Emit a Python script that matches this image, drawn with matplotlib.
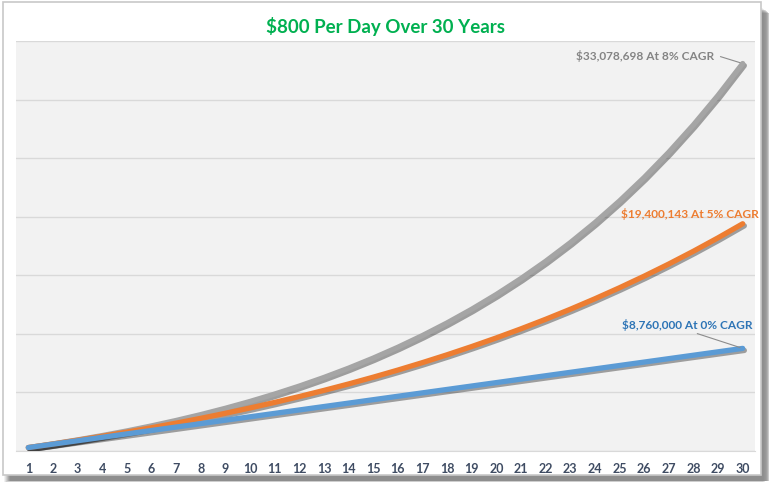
import matplotlib
matplotlib.use("Agg")
import matplotlib.pyplot as plt
import matplotlib.patheffects as pe
from matplotlib.patches import Rectangle

# ---------------------------------------------------------------
# Datos: $800 diarios (292,000 por año) acumulados durante 30 años
# ---------------------------------------------------------------
years = list(range(1, 31))

cagr_0 = [292000, 584000, 876000, 1168000, 1460000, 1752000, 2044000, 2336000,
          2628000, 2920000, 3212000, 3504000, 3796000, 4088000, 4380000, 4672000,
          4964000, 5256000, 5548000, 5840000, 6132000, 6424000, 6716000, 7008000,
          7300000, 7592000, 7884000, 8176000, 8468000, 8760000]

cagr_5 = [292000, 598600, 920530, 1258557, 1613484, 1986159, 2377466, 2788340,
          3219757, 3672745, 4148382, 4647801, 5172191, 5722801, 6300941, 6907988,
          7545387, 8214656, 8917389, 9655258, 10430022, 11243523, 12097699, 12994584,
          13936313, 14925129, 15963385, 17053554, 18198232, 19400143]

cagr_8 = [292000, 607360, 947949, 1315785, 1713047, 2142091, 2605459, 3105895,
          3646367, 4230076, 4860482, 5541321, 6276627, 7070757, 7928417, 8854691,
          9855066, 10935471, 12102309, 13362494, 14723493, 16193373, 17781842, 19495310,
          21346934, 23346689, 25506424, 27838938, 30358053, 33078698]

labels = ["$8,760,000 At 0% CAGR", "$19,400,143 At 5% CAGR", "$33,078,698 At 8% CAGR"]

W, H = 773, 485
fig = plt.figure(figsize=(W / 100, H / 100), dpi=100)
fig.patch.set_facecolor("white")

# marco con sombra
for i, a in enumerate([0.10, 0.14, 0.18, 0.24, 0.30, 0.36, 0.42]):
    fig.patches.append(Rectangle(((4 + i) / W, (H - 483 + i * 0.2) / H),
                                 (758 + 0.5) / W, (474 - i) / H,
                                 transform=fig.transFigure, facecolor="#7f7f7f",
                                 edgecolor="none", alpha=a, zorder=0))
fig.patches.append(Rectangle((3 / W, (H - 476) / H), 758 / W, 473 / H,
                             transform=fig.transFigure, facecolor="white",
                             edgecolor="#c8c8c8", linewidth=1.2, zorder=1))

ax = fig.add_axes([16 / W, (H - 452) / H, (755 - 16) / W, (452 - 42) / H])
ax.set_zorder(2)
ax.set_facecolor("#f2f2f2")

x = list(range(len(years)))
ax.set_xlim(-0.5, len(years) - 0.5)
ax.set_ylim(0, 35000000)
ax.set_yticks(range(0, 35000001, 5000000))
ax.set_yticklabels([])
ax.tick_params(axis="y", length=0)
ax.grid(axis="y", color="#d9d9d9", linewidth=1)
ax.set_axisbelow(True)
for s in ["top", "left", "right"]:
    ax.spines[s].set_visible(False)
ax.spines["bottom"].set_color("#d9d9d9")

ax.set_xticks(x)
ax.set_xticklabels([str(y) for y in years], fontsize=9, fontweight="bold",
                   color="#3f4c63", family="Lato")
ax.tick_params(axis="x", length=0, pad=8)

sombra = [pe.SimpleLineShadow(offset=(1.2, -1.5), shadow_color="black", alpha=0.35),
          pe.Normal()]
series = [(cagr_8, "#a5a5a5"), (cagr_5, "#ed7d31"), (cagr_0, "#5b9bd5")]
for vals, col in series:
    ax.plot(x, vals, color=col, linewidth=3.8, solid_capstyle="round",
            path_effects=sombra, zorder=3)

fs = 8.6
ax.annotate(labels[2], xy=(x[-1], cagr_8[-1]), xytext=(-29, 9),
            textcoords="offset pixels", ha="right", va="center",
            fontsize=fs, fontweight="bold", color="#848484", family="Lato",
            arrowprops=dict(arrowstyle="-", color="#8c8c8c", lw=0.8,
                            relpos=(1, 0.5), shrinkA=3, shrinkB=2),
            annotation_clip=False)
ax.annotate(labels[1], xy=(x[-1], cagr_5[-1]), xytext=(16, 11),
            textcoords="offset pixels", ha="right", va="center",
            fontsize=fs, fontweight="bold", color="#ed7d31", family="Lato",
            annotation_clip=False)
ax.annotate(labels[0], xy=(x[-1], cagr_0[-1]), xytext=(10, 24),
            textcoords="offset pixels", ha="right", va="center",
            fontsize=fs, fontweight="bold", color="#2e75b6", family="Lato",
            arrowprops=dict(arrowstyle="-", color="#8c8c8c", lw=0.8,
                            relpos=(0.5, 0), shrinkA=1, shrinkB=2),
            annotation_clip=False)

fig.text(386 / W, (H - 26) / H, "$800 Per Day Over 30 Years", ha="center",
         va="center", fontsize=13.5, fontweight="bold", color="#00b050",
         family="Lato", zorder=5)

fig.savefig("out.png", dpi=100)
